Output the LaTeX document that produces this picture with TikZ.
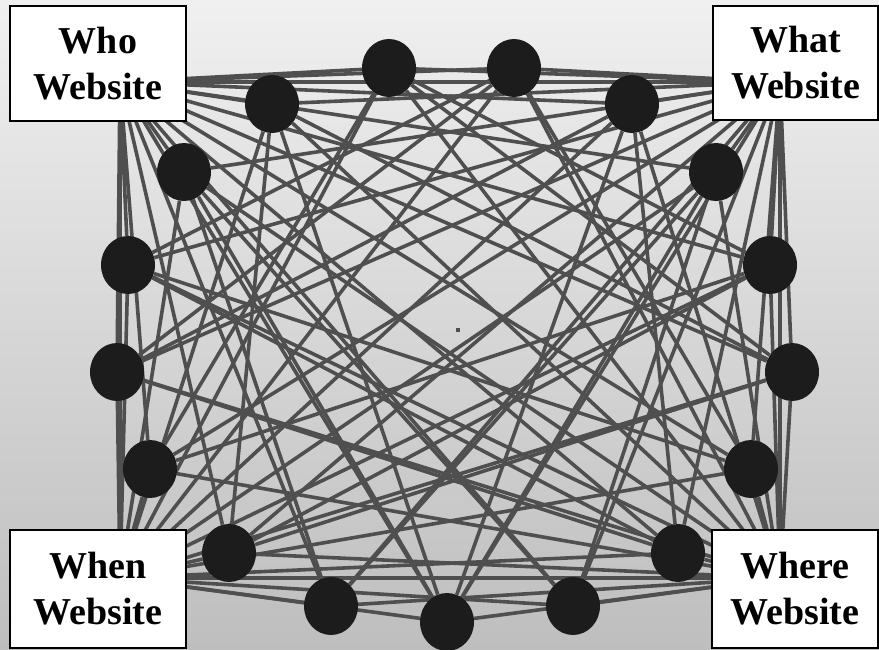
\documentclass[tikz,border=0pt]{standalone}
\usepackage{fontspec}
\setmainfont{Liberation Serif}
\usetikzlibrary{shapes.geometric}
\definecolor{bgtop}{HTML}{F0F0F0}
\definecolor{bgbot}{HTML}{BEBEBE}
\definecolor{linkgray}{HTML}{4F4F4F}
\definecolor{nodeblack}{HTML}{1C1C1C}
\pgfdeclarelayer{bg}
\pgfdeclarelayer{edges}
\pgfsetlayers{bg,edges,main}
\begin{document}
\begin{tikzpicture}[x=1pt,y=-1pt,
  link/.style={line width=3.6pt, draw=linkgray},
  vert/.style={ellipse, fill=nodeblack, minimum width=54pt, minimum height=58pt, inner sep=0pt},
  hubbox/.style={draw=black, line width=2pt, fill=white, font=\bfseries\fontsize{38}{46}\selectfont, align=center, inner sep=0pt}]
\useasboundingbox (0,0) rectangle (879,649);
\begin{pgfonlayer}{bg}
  \shade[top color=bgtop, bottom color=bgbot] (0,0) rectangle (879,649);
  \fill[linkgray] (456,328) rectangle (460,332);
\end{pgfonlayer}
% ring nodes
\foreach \i/\x/\y in {0/389/68, 1/514/68, 2/632/104, 3/716/172, 4/770/265, 5/792/372,
  6/751/469, 7/678/553, 8/573/606, 9/447/622, 10/331/606, 11/229/553, 12/150/469,
  13/117/372, 14/128/265, 15/184/172, 16/272/104}
  \node[vert] (n\i) at (\x,\y) {};
% hub points hidden behind the boxes
\coordinate (hwho) at (120,82);
\coordinate (hwhat) at (780,82);
\coordinate (hwhen) at (120,578);
\coordinate (hwhere) at (780,578);
\begin{pgfonlayer}{edges}
  \foreach \i in {0,...,16} {
    \draw[link] (hwho) -- (n\i);
    \draw[link] (hwhat) -- (n\i);
    \draw[link] (hwhen) -- (n\i);
    \draw[link] (hwhere) -- (n\i);
  }
  \foreach \a/\b in {0/5, 1/13, 0/12, 1/6, 2/7, 16/11, 2/9, 16/9, 3/8, 15/10,
    3/9, 15/9, 8/15, 10/3, 14/1, 4/0, 14/7, 4/11, 13/2, 5/16, 13/7, 5/11, 12/4, 6/14}
    \draw[link] (n\a) -- (n\b);
  \draw[link] (hwho) -- (hwhat);
  \draw[link] (hwho) -- (hwhen);
  \draw[link] (hwhat) -- (hwhere);
  \draw[link] (hwhen) -- (hwhere);
\end{pgfonlayer}
% corner boxes
\node[hubbox, minimum width=176pt, minimum height=115pt] (who) at (98,63.5) {Who\\Website};
\node[hubbox, minimum width=165pt, minimum height=114pt] (what) at (795.5,63) {What\\Website};
\node[hubbox, minimum width=176pt, minimum height=118pt] (when) at (98,589) {When\\Website};
\node[hubbox, minimum width=166pt, minimum height=118pt] (where) at (795,589) {Where\\Website};
\end{tikzpicture}
\end{document}
